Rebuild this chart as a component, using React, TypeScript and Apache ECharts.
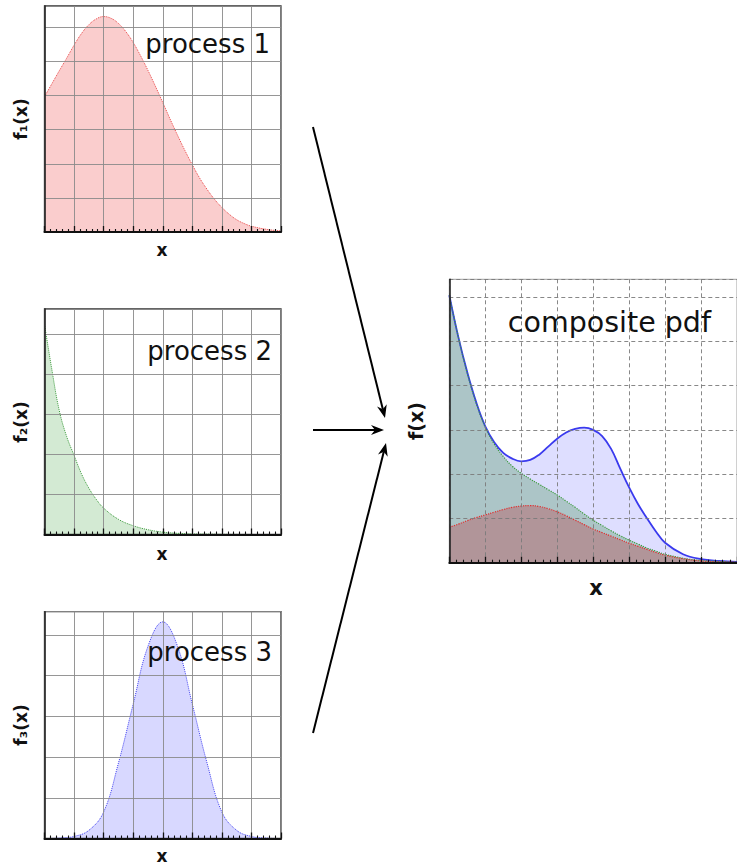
import React, { useEffect, useRef } from "react";
import * as echarts from "echarts";

// ---- process 1 ----
const p1X = [0, 0.25, 0.5, 0.75, 1, 1.25, 1.5, 1.75, 2, 2.25, 2.5, 2.75, 3, 3.25, 3.5, 3.75, 4, 4.25, 4.5, 4.75, 5, 5.25, 5.5, 5.75, 6, 6.25, 6.5, 6.75, 7, 7.5, 8];
const p1Y = [3.97, 4.35, 4.73, 5.1, 5.48, 5.82, 6.08, 6.25, 6.32, 6.27, 6.12, 5.88, 5.56, 5.17, 4.74, 4.28, 3.8, 3.31, 2.84, 2.39, 1.97, 1.58, 1.25, 0.96, 0.72, 0.52, 0.36, 0.25, 0.17, 0.08, 0.03];

// ---- process 2 ----
const p2X = [0, 0.25, 0.5, 0.75, 1, 1.25, 1.5, 1.75, 2, 2.5, 3, 3.5, 4, 4.5, 5, 5.5, 6, 7, 8];
const p2Y = [5.26, 4.12, 3.1, 2.45, 1.98, 1.52, 1.16, 0.88, 0.66, 0.38, 0.22, 0.12, 0.06, 0.03, 0.015, 0.01, 0.005, 0, 0];

// ---- process 3 ----
const p3X = [0, 0.5, 1, 1.5, 2, 2.5, 3, 3.5, 4, 4.5, 5, 5.5, 6, 6.5, 7, 7.5, 8];
const p3Y = [0, 0.01, 0.05, 0.2, 0.65, 1.85, 3.3, 4.72, 5.32, 4.72, 3.3, 1.85, 0.65, 0.2, 0.05, 0.01, 0];

// ---- composite pdf (cumulative curves) ----
const mixX = [0, 0.25, 0.5, 0.75, 1, 1.25, 1.5, 1.75, 2, 2.25, 2.5, 2.75, 3, 3.25, 3.5, 3.75, 4, 4.25, 4.5, 4.75, 5, 5.25, 5.5, 5.75, 6, 6.5, 7, 7.5, 8];
const mixTotal = [6.04, 5.1, 4.3, 3.62, 3.08, 2.72, 2.48, 2.35, 2.29, 2.32, 2.44, 2.62, 2.8, 2.94, 3.02, 3.05, 3.0, 2.86, 2.57, 2.13, 1.7, 1.32, 1.0, 0.7, 0.45, 0.19, 0.08, 0.04, 0.02];
const mixUpTo2 = [6.04, 5.1, 4.28, 3.6, 3.06, 2.68, 2.4, 2.18, 2.02, 1.89, 1.77, 1.65, 1.53, 1.39, 1.25, 1.1, 0.96, 0.84, 0.72, 0.61, 0.51, 0.42, 0.33, 0.26, 0.19, 0.1, 0.05, 0.03, 0.01];
const mixUpTo1 = [0.8, 0.87, 0.95, 1.02, 1.08, 1.14, 1.2, 1.25, 1.28, 1.29, 1.27, 1.22, 1.15, 1.06, 0.96, 0.86, 0.76, 0.68, 0.6, 0.52, 0.44, 0.37, 0.3, 0.23, 0.17, 0.09, 0.04, 0.02, 0.01];

const panelTitles = ["process 1", "process 2", "process 3", "composite pdf"];

const FONT = "'DejaVu Sans', Verdana, sans-serif";

const pairs = (xs: number[], ys: number[]) => xs.map((x, i) => [x, ys[i]]);

// plot rectangles
const grids = [
  { left: 44.5, top: 6, width: 236.5, height: 226, ymax: 6.63 },
  { left: 44.5, top: 309, width: 236.5, height: 225.5, ymax: 5.64 },
  { left: 44.5, top: 611.7, width: 236.5, height: 226.8, ymax: 5.57 },
  { left: 449.3, top: 279.3, width: 293.4, height: 283.4, ymax: 6.4 },
];

function gridLine(dashed: boolean) {
  return {
    show: true,
    lineStyle: dashed
      ? { color: "#7a7a7a", width: 0.9, type: [4, 3] }
      : { color: "#8a8a8a", width: 0.9, type: "solid" },
  };
}

function xAxis(i: number, dashed: boolean) {
  return {
    type: "value",
    gridIndex: i,
    min: 0,
    max: 8,
    interval: 1,
    z: 10,
    axisLabel: { show: false },
    axisLine: { show: true, onZero: false, lineStyle: { color: "#111", width: 2 } },
    axisTick: { show: true, inside: true, length: 6, lineStyle: { color: "#111", width: 1.3 } },
    minorTick: { show: true, splitNumber: 5, length: 3, lineStyle: { color: "#111", width: 1.1 } },
    splitLine: gridLine(dashed),
  };
}

function yAxis(i: number, max: number, dashed: boolean) {
  return {
    type: "value",
    gridIndex: i,
    min: 0,
    max,
    interval: 1,
    z: 10,
    axisLabel: { show: false },
    axisLine: { show: true, lineStyle: { color: "#222", width: 1.6 } },
    axisTick: { show: false },
    splitLine: gridLine(dashed),
  };
}

function area(i: number, data: number[][], line: string, fill: string, type: any, width: number) {
  return {
    type: "line",
    xAxisIndex: i,
    yAxisIndex: i,
    data,
    smooth: 0.4,
    showSymbol: false,
    silent: true,
    lineStyle: { color: line, width, type },
    areaStyle: { color: fill, origin: "start" },
  };
}

function label(text: string, x: number, y: number, size: number, opts: any = {}) {
  return {
    type: "text",
    x,
    y,
    rotation: opts.rotation || 0,
    z: 100,
    style: {
      text,
      fill: "#111",
      fontFamily: FONT,
      fontSize: size,
      fontWeight: opts.bold ? "bold" : "normal",
      align: opts.align || "center",
      verticalAlign: "middle",
      textAlign: opts.align || "center",
      textVerticalAlign: "middle",
    },
  };
}

function arrow(s: number[], t: number[]) {
  const dx = t[0] - s[0];
  const dy = t[1] - s[1];
  const L = Math.hypot(dx, dy);
  const ux = dx / L;
  const uy = dy / L;
  const px = -uy;
  const py = ux;
  const len = 13;
  const half = 5;
  const notch = 9;
  const bx = t[0] - ux * len;
  const by = t[1] - uy * len;
  const ix = t[0] - ux * notch;
  const iy = t[1] - uy * notch;
  return [
    {
      type: "line",
      z: 100,
      shape: { x1: s[0], y1: s[1], x2: ix, y2: iy },
      style: { stroke: "#000", lineWidth: 2 },
    },
    {
      type: "polygon",
      z: 100,
      shape: {
        points: [
          [t[0], t[1]],
          [bx + px * half, by + py * half],
          [ix, iy],
          [bx - px * half, by - py * half],
        ],
      },
      style: { fill: "#000" },
    },
  ];
}

const arrowStarts = [[313, 127], [313, 430], [313, 733]];
const arrowTips = [[385, 418], [384, 430], [386, 443]];

export default function App() {
  const ref = useRef<HTMLDivElement>(null);

  useEffect(() => {
    if (!ref.current) return;
    const chart = echarts.init(ref.current, undefined, { renderer: "svg" });

    const option: any = {
      animation: false,
      backgroundColor: "#fff",
      grid: grids.map((g, i) => ({
        left: g.left,
        top: g.top,
        width: g.width,
        height: g.height,
        show: true,
        borderColor: i === 3 ? "#a0a0a0" : "#333",
        borderWidth: i === 3 ? 1 : 1.3,
        backgroundColor: "transparent",
      })),
      xAxis: grids.map((_, i) => xAxis(i, i === 3)),
      yAxis: grids.map((g, i) => yAxis(i, g.ymax, i === 3)),
      series: [
        area(0, pairs(p1X, p1Y), "#e84545", "rgba(235,60,60,0.37)", "dotted", 1),
        area(1, pairs(p2X, p2Y), "#3c9a3c", "rgba(60,160,60,0.32)", "dotted", 1),
        area(2, pairs(p3X, p3Y), "#4040f0", "rgba(70,70,255,0.3)", "dotted", 1),
        area(3, pairs(mixX, mixTotal), "#3a3aee", "rgba(80,80,255,0.27)", "solid", 1.8),
        area(3, pairs(mixX, mixUpTo2), "#3a9a3a", "rgba(55,140,65,0.42)", "dotted", 1.2),
        area(3, pairs(mixX, mixUpTo1), "#e03030", "rgba(190,20,25,0.38)", "dotted", 1.2),
      ],
      graphic: [
        label(panelTitles[0], 270, 43.5, 26, { align: "right" }),
        label(panelTitles[1], 272, 351, 26, { align: "right" }),
        label(panelTitles[2], 272, 652, 26, { align: "right" }),
        label(panelTitles[3], 711, 322, 28.5, { align: "right" }),
        label("x", 162, 250, 17, { bold: true }),
        label("x", 162, 554, 17, { bold: true }),
        label("x", 162, 856, 17, { bold: true }),
        label("x", 596, 588, 21, { bold: true }),
        label("f\u2081(x)", 21, 119, 17, { bold: true, rotation: Math.PI / 2 }),
        label("f\u2082(x)", 21, 422, 17, { bold: true, rotation: Math.PI / 2 }),
        label("f\u2083(x)", 21, 725, 17, { bold: true, rotation: Math.PI / 2 }),
        label("f(x)", 416, 421, 19, { bold: true, rotation: Math.PI / 2 }),
        ...arrowStarts.flatMap((s, i) => arrow(s, arrowTips[i])),
      ],
    };

    chart.setOption(option);
    return () => chart.dispose();
  }, []);

  return (
    <div
      ref={ref}
      style={{ position: "absolute", left: 0, top: 0, width: 737, height: 865 }}
    />
  );
}
